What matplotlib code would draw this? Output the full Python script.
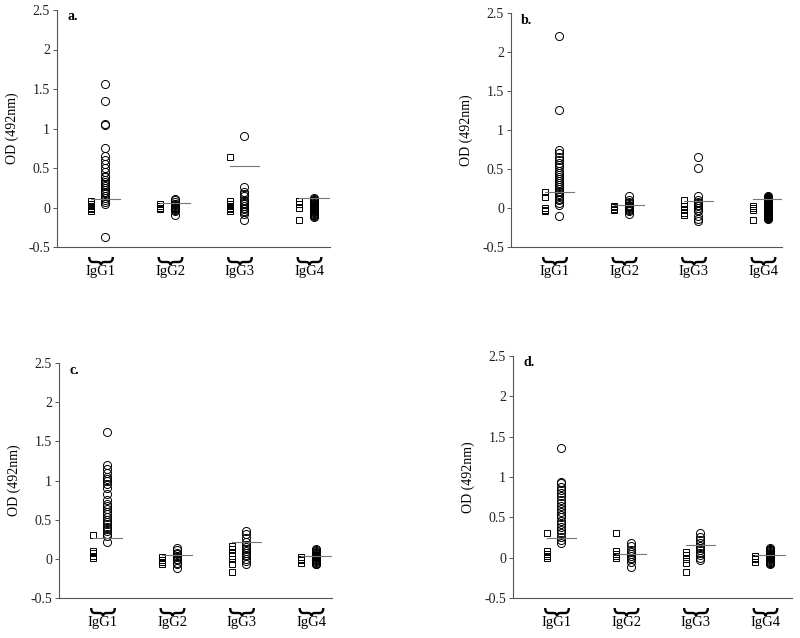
import matplotlib
matplotlib.use("Agg")
import matplotlib.pyplot as plt
from matplotlib.path import Path
from matplotlib.patches import PathPatch
from matplotlib.transforms import ScaledTranslation

plt.rcParams['font.family'] = ['Liberation Serif', 'DejaVu Serif']

categories = ["IgG1", "IgG2", "IgG3", "IgG4"]
yticks = [-0.5, 0, 0.5, 1, 1.5, 2, 2.5]
ytick_labels = ["-0.5", "0", "0.5", "1", "1.5", "2", "2.5"]
ylabel = "OD (492nm)"

# ---- panel a ----
a_squares = [
    [0.08, 0.05, 0.02, 0.0, -0.02, -0.05],
    [0.04, 0.02, 0.0, -0.02],
    [0.64, 0.08, 0.05, 0.02, 0.0, -0.02, -0.04],
    [0.08, 0.04, 0.0, -0.16],
]
a_circles = [
    [1.56, 1.35, 1.06, 1.05, 0.75, 0.65, 0.60, 0.55, 0.50, 0.45, 0.40, 0.38, 0.35,
     0.32, 0.30, 0.27, 0.25, 0.22, 0.20, 0.18, 0.15, 0.12, 0.10, 0.07, 0.04, -0.37],
    [0.11, 0.09, 0.07, 0.05, 0.04, 0.03, 0.02, 0.01, 0.0, -0.01, -0.02, -0.03, -0.04, -0.09],
    [0.90, 0.26, 0.20, 0.17, 0.14, 0.10, 0.08, 0.06, 0.04, 0.02, 0.0, -0.02, -0.04,
     -0.06, -0.08, -0.16],
    [0.12, 0.11, 0.10, 0.09, 0.08, 0.07, 0.06, 0.05, 0.04, 0.03, 0.02, 0.01, 0.0,
     -0.01, -0.02, -0.03, -0.04, -0.05, -0.06, -0.07, -0.08, -0.09, -0.10, -0.11, -0.12],
]
a_median = [0.11, 0.06, 0.53, 0.12]

# ---- panel b ----
b_squares = [
    [0.20, 0.14, 0.0, -0.02, -0.04],
    [0.03, 0.01, -0.01, -0.03],
    [0.10, 0.02, -0.01, -0.03, -0.06, -0.09],
    [0.02, 0.0, -0.02, -0.16],
]
b_circles = [
    [2.21, 1.26, 0.75, 0.70, 0.65, 0.62, 0.58, 0.55, 0.52, 0.48, 0.45, 0.42, 0.40,
     0.37, 0.34, 0.32, 0.30, 0.27, 0.25, 0.22, 0.20, 0.18, 0.15, 0.12, 0.10, 0.07,
     0.04, -0.10],
    [0.16, 0.10, 0.08, 0.06, 0.04, 0.03, 0.02, 0.01, 0.0, -0.01, -0.02, -0.04, -0.08],
    [0.65, 0.51, 0.15, 0.10, 0.08, 0.06, 0.04, 0.02, 0.0, -0.02, -0.04, -0.10,
     -0.14, -0.17],
    [0.15, 0.12, 0.10, 0.08, 0.06, 0.04, 0.02, 0.0, -0.02, -0.04, -0.06, -0.08,
     -0.10, -0.12, -0.14],
]
b_median = [0.21, 0.04, 0.09, 0.11]

# ---- panel c ----
c_squares = [
    [0.30, 0.10, 0.07, 0.04, 0.01],
    [0.02, -0.01, -0.04, -0.07],
    [0.16, 0.12, 0.08, 0.04, 0.0, -0.07, -0.17],
    [0.02, 0.0, -0.02, -0.05],
]
c_circles = [
    [1.62, 1.20, 1.15, 1.10, 1.05, 1.02, 1.00, 0.95, 0.90, 0.83, 0.75, 0.70, 0.67,
     0.63, 0.60, 0.57, 0.54, 0.50, 0.47, 0.44, 0.41, 0.38, 0.35, 0.32, 0.29, 0.22],
    [0.14, 0.11, 0.08, 0.06, 0.04, 0.02, 0.0, -0.02, -0.05, -0.07, -0.12],
    [0.36, 0.32, 0.27, 0.22, 0.18, 0.15, 0.12, 0.10, 0.08, 0.05, 0.03, 0.0, -0.03, -0.07],
    [0.12, 0.11, 0.10, 0.09, 0.08, 0.07, 0.06, 0.05, 0.04, 0.03, 0.02, 0.01, 0.0,
     -0.01, -0.02, -0.03, -0.04, -0.05, -0.06, -0.07],
]
c_median = [0.26, 0.05, 0.22, 0.03]

# ---- panel d ----
d_squares = [
    [0.30, 0.08, 0.05, 0.02, 0.0],
    [0.30, 0.08, 0.05, 0.02, 0.0],
    [0.07, 0.03, -0.02, -0.06, -0.18],
    [0.02, 0.0, -0.02, -0.05],
]
d_circles = [
    [1.36, 0.94, 0.92, 0.88, 0.84, 0.80, 0.76, 0.72, 0.68, 0.64, 0.60, 0.56, 0.53,
     0.50, 0.46, 0.42, 0.38, 0.34, 0.30, 0.26, 0.22, 0.18],
    [0.18, 0.14, 0.10, 0.07, 0.04, 0.02, 0.0, -0.02, -0.05, -0.12],
    [0.31, 0.26, 0.22, 0.18, 0.15, 0.12, 0.09, 0.06, 0.03, 0.0, -0.03],
    [0.12, 0.11, 0.10, 0.09, 0.08, 0.07, 0.06, 0.05, 0.04, 0.03, 0.02, 0.01, 0.0,
     -0.01, -0.02, -0.03, -0.04, -0.05, -0.06, -0.07, -0.08],
]
d_median = [0.25, 0.04, 0.16, 0.03]

panels = [
    ("a.", a_squares, a_circles, a_median, False, (57, 10, 330, 247)),
    ("b.", b_squares, b_circles, b_median, True, (511, 13, 782, 247)),
    ("c.", c_squares, c_circles, c_median, False, (59, 363, 332, 598)),
    ("d.", d_squares, d_circles, d_median, False, (513, 356, 792, 598)),
]

W, H = 800, 638
fig = plt.figure(figsize=(W / 100, H / 100), dpi=100)

PX_PER_UNIT = 69.5
SQ_OFF = -0.15
CI_OFF = 0.06
MED_L, MED_R = -0.15, 0.28
BR_HALF = 0.17


def brace_codes():
    return [Path.MOVETO, Path.CURVE3, Path.CURVE3,
            Path.LINETO,
            Path.CURVE3, Path.CURVE3,
            Path.CURVE3, Path.CURVE3,
            Path.LINETO,
            Path.CURVE3, Path.CURVE3]


for label, squares, circles, med, filled4, (l, t, r, b) in panels:
    ax = fig.add_axes([l / W, 1 - b / H, (r - l) / W, (b - t) / H])
    left = 1 - 44 / PX_PER_UNIT
    ax.set_xlim(left, left + (r - l) / PX_PER_UNIT)
    ax.set_ylim(-0.5, 2.5)
    for sp in ["top", "right"]:
        ax.spines[sp].set_visible(False)
    for sp in ["left", "bottom"]:
        ax.spines[sp].set_color("#555555")
        ax.spines[sp].set_linewidth(0.8)
    ax.set_xticks([])
    ax.set_yticks(yticks)
    ax.set_yticklabels(ytick_labels)
    ax.tick_params(axis="y", direction="out", length=3, width=0.7, color="#555555",
                   labelsize=10, labelcolor="#222222", pad=2)
    ax.set_ylabel(ylabel, fontsize=10, labelpad=7)
    ax.text(10 / (r - l), 1 - 7 / (b - t), label, transform=ax.transAxes,
            fontsize=10, fontweight="bold", ha="left", va="center")

    base = ax.get_xaxis_transform()
    for i, cat in enumerate(categories):
        xc = i + 1
        sq = squares[i]
        ci = circles[i]
        ax.plot([xc + SQ_OFF] * len(sq), sq, linestyle="none", marker="s",
                markersize=5.0, markerfacecolor="none", markeredgecolor="black",
                markeredgewidth=0.7, clip_on=False)
        face = "black" if (filled4 and i == 3) else "none"
        ax.plot([xc + CI_OFF] * len(ci), ci, linestyle="none", marker="o",
                markersize=5.8, markerfacecolor=face, markeredgecolor="black",
                markeredgewidth=0.7, clip_on=False)
        ax.plot([xc + MED_L, xc + MED_R], [med[i], med[i]], color="#777777",
                linewidth=0.8)

        # curly brace below the axis, built in display pixels
        x0, x1 = xc - BR_HALF, xc + BR_HALF
        e = 0.05
        xs = [x0, x0, x0 + e, xc - e, xc, xc, xc, xc + e, x1 - e, x1, x1]
        dys = [0, -5, -5, -5, -5, -8, -5, -5, -5, -5, 0]
        disp = []
        for vx, dy in zip(xs, dys):
            X, Y = base.transform((vx, 0.0))
            disp.append((X, Y - 10 + dy))
        patch = PathPatch(Path(disp, brace_codes()), transform=None, facecolor="none",
                          edgecolor="black", linewidth=1.7, clip_on=False)
        fig.add_artist(patch)

        ax.text(xc, 0, cat, transform=base
                + ScaledTranslation(0, -0.245, fig.dpi_scale_trans),
                ha="center", va="center", fontsize=10.5)

fig.savefig("out.png", dpi=100)
